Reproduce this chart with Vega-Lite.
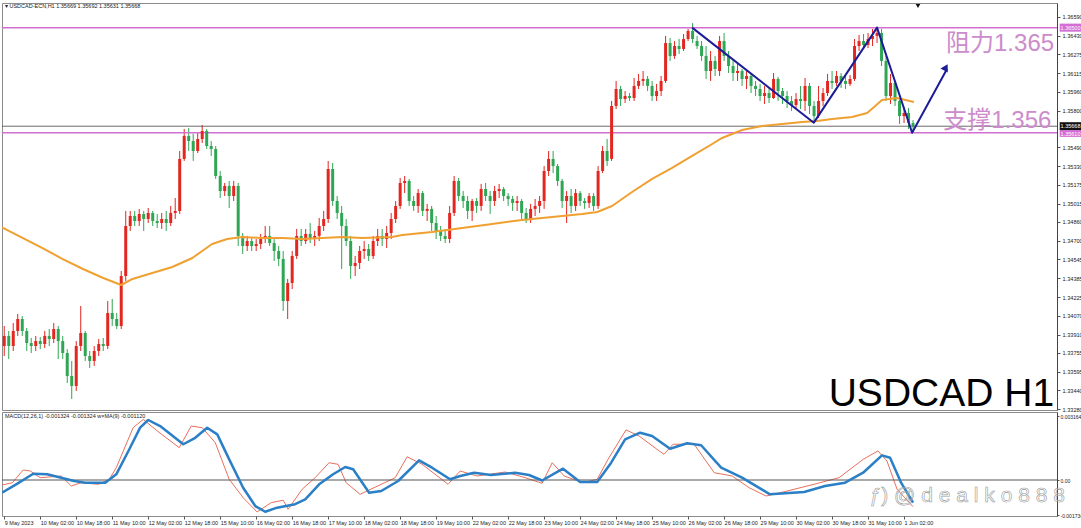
{
"$schema": "https://vega.github.io/schema/vega-lite/v6.json",
"padding": {"left": 0, "right": 0, "top": 2, "bottom": 0},
"background": "#ffffff",
"spacing": 2,
"bounds": "flush",
"config": {
 "view": {"stroke": "#8c8c8c", "strokeWidth": 1},
 "axis": {"labelFont": "Liberation Sans", "labelFontSize": 5.6, "labelColor": "#222222", "tickColor": "#555555", "tickSize": 3, "domainColor": "#444444", "grid": false}
},
"datasets": {
"one": [{}],
"candles": [
{"t":0,"o":1.33813,"h":1.33982,"l":1.33729,"c":1.33898},
{"t":2,"o":1.33898,"h":1.33940,"l":1.33703,"c":1.33813},
{"t":4,"o":1.33813,"h":1.34007,"l":1.33771,"c":1.33940},
{"t":6,"o":1.33940,"h":1.34084,"l":1.33898,"c":1.34041},
{"t":8,"o":1.34041,"h":1.34066,"l":1.33898,"c":1.33940},
{"t":10,"o":1.33940,"h":1.33965,"l":1.33771,"c":1.33838},
{"t":12,"o":1.33838,"h":1.33881,"l":1.33754,"c":1.33813},
{"t":14,"o":1.33813,"h":1.33898,"l":1.33771,"c":1.33855},
{"t":16,"o":1.33855,"h":1.33889,"l":1.33787,"c":1.33830},
{"t":18,"o":1.33830,"h":1.33940,"l":1.33796,"c":1.33898},
{"t":20,"o":1.33898,"h":1.33957,"l":1.33813,"c":1.33872},
{"t":22,"o":1.33872,"h":1.34007,"l":1.33838,"c":1.33957},
{"t":24,"o":1.33957,"h":1.33982,"l":1.33703,"c":1.33855},
{"t":26,"o":1.33855,"h":1.33898,"l":1.33703,"c":1.33754},
{"t":28,"o":1.33754,"h":1.33787,"l":1.33501,"c":1.33560},
{"t":30,"o":1.33560,"h":1.33687,"l":1.33366,"c":1.33476},
{"t":32,"o":1.33476,"h":1.33855,"l":1.33434,"c":1.33813},
{"t":34,"o":1.33813,"h":1.34151,"l":1.33771,"c":1.33923},
{"t":36,"o":1.33923,"h":1.33940,"l":1.33687,"c":1.33729},
{"t":38,"o":1.33729,"h":1.33771,"l":1.33628,"c":1.33687},
{"t":40,"o":1.33687,"h":1.33813,"l":1.33645,"c":1.33771},
{"t":42,"o":1.33771,"h":1.33872,"l":1.33729,"c":1.33830},
{"t":44,"o":1.33830,"h":1.33881,"l":1.33771,"c":1.33813},
{"t":46,"o":1.33813,"h":1.34193,"l":1.33787,"c":1.34092},
{"t":48,"o":1.34092,"h":1.34210,"l":1.33982,"c":1.34041},
{"t":50,"o":1.34041,"h":1.34092,"l":1.33957,"c":1.33982},
{"t":52,"o":1.33982,"h":1.34446,"l":1.33957,"c":1.34404},
{"t":54,"o":1.34404,"h":1.34953,"l":1.34362,"c":1.34826},
{"t":56,"o":1.34826,"h":1.34953,"l":1.34784,"c":1.34910},
{"t":58,"o":1.34910,"h":1.34953,"l":1.34826,"c":1.34868},
{"t":60,"o":1.34868,"h":1.34970,"l":1.34826,"c":1.34927},
{"t":62,"o":1.34927,"h":1.34953,"l":1.34784,"c":1.34885},
{"t":64,"o":1.34885,"h":1.34978,"l":1.34851,"c":1.34936},
{"t":66,"o":1.34936,"h":1.34953,"l":1.34826,"c":1.34868},
{"t":68,"o":1.34868,"h":1.34927,"l":1.34809,"c":1.34851},
{"t":70,"o":1.34851,"h":1.34936,"l":1.34801,"c":1.34885},
{"t":72,"o":1.34885,"h":1.34953,"l":1.34784,"c":1.34851},
{"t":74,"o":1.34851,"h":1.34995,"l":1.34826,"c":1.34936},
{"t":76,"o":1.34936,"h":1.35062,"l":1.34885,"c":1.34953},
{"t":78,"o":1.34953,"h":1.35459,"l":1.34927,"c":1.35392},
{"t":80,"o":1.35392,"h":1.35645,"l":1.35375,"c":1.35586},
{"t":82,"o":1.35586,"h":1.35653,"l":1.35459,"c":1.35543},
{"t":84,"o":1.35543,"h":1.35603,"l":1.35375,"c":1.35459},
{"t":86,"o":1.35459,"h":1.35611,"l":1.35442,"c":1.35560},
{"t":88,"o":1.35560,"h":1.35678,"l":1.35526,"c":1.35628},
{"t":90,"o":1.35628,"h":1.35645,"l":1.35476,"c":1.35501},
{"t":92,"o":1.35501,"h":1.35543,"l":1.35417,"c":1.35476},
{"t":94,"o":1.35476,"h":1.35501,"l":1.35223,"c":1.35248},
{"t":96,"o":1.35248,"h":1.35290,"l":1.35062,"c":1.35121},
{"t":98,"o":1.35121,"h":1.35189,"l":1.35079,"c":1.35164},
{"t":100,"o":1.35164,"h":1.35206,"l":1.34978,"c":1.35079},
{"t":102,"o":1.35079,"h":1.35206,"l":1.35037,"c":1.35164},
{"t":104,"o":1.35164,"h":1.35189,"l":1.34657,"c":1.34742},
{"t":106,"o":1.34742,"h":1.34767,"l":1.34590,"c":1.34657},
{"t":108,"o":1.34657,"h":1.34742,"l":1.34615,"c":1.34699},
{"t":110,"o":1.34699,"h":1.34725,"l":1.34615,"c":1.34657},
{"t":112,"o":1.34657,"h":1.34716,"l":1.34615,"c":1.34674},
{"t":114,"o":1.34674,"h":1.34759,"l":1.34632,"c":1.34716},
{"t":116,"o":1.34716,"h":1.34826,"l":1.34682,"c":1.34742},
{"t":118,"o":1.34742,"h":1.34826,"l":1.34657,"c":1.34682},
{"t":120,"o":1.34682,"h":1.34716,"l":1.34531,"c":1.34615},
{"t":122,"o":1.34615,"h":1.34657,"l":1.34488,"c":1.34548},
{"t":124,"o":1.34548,"h":1.34615,"l":1.34109,"c":1.34193},
{"t":126,"o":1.34193,"h":1.34379,"l":1.34041,"c":1.34345},
{"t":128,"o":1.34345,"h":1.34615,"l":1.34294,"c":1.34573},
{"t":130,"o":1.34573,"h":1.34801,"l":1.34548,"c":1.34742},
{"t":132,"o":1.34742,"h":1.34801,"l":1.34657,"c":1.34699},
{"t":134,"o":1.34699,"h":1.34801,"l":1.34674,"c":1.34759},
{"t":136,"o":1.34759,"h":1.34851,"l":1.34682,"c":1.34716},
{"t":138,"o":1.34716,"h":1.34784,"l":1.34657,"c":1.34742},
{"t":140,"o":1.34742,"h":1.34894,"l":1.34699,"c":1.34826},
{"t":142,"o":1.34826,"h":1.34953,"l":1.34784,"c":1.34885},
{"t":144,"o":1.34885,"h":1.35375,"l":1.34851,"c":1.35307},
{"t":146,"o":1.35307,"h":1.35358,"l":1.34995,"c":1.35037},
{"t":148,"o":1.35037,"h":1.35079,"l":1.34885,"c":1.34936},
{"t":150,"o":1.34936,"h":1.34995,"l":1.34463,"c":1.34826},
{"t":152,"o":1.34826,"h":1.34885,"l":1.34657,"c":1.34699},
{"t":154,"o":1.34699,"h":1.34742,"l":1.34379,"c":1.34488},
{"t":156,"o":1.34488,"h":1.34573,"l":1.34404,"c":1.34514},
{"t":158,"o":1.34514,"h":1.34657,"l":1.34463,"c":1.34615},
{"t":160,"o":1.34615,"h":1.34699,"l":1.34548,"c":1.34632},
{"t":162,"o":1.34632,"h":1.34674,"l":1.34531,"c":1.34573},
{"t":164,"o":1.34573,"h":1.34742,"l":1.34548,"c":1.34699},
{"t":166,"o":1.34699,"h":1.34801,"l":1.34657,"c":1.34742},
{"t":168,"o":1.34742,"h":1.34801,"l":1.34657,"c":1.34716},
{"t":170,"o":1.34716,"h":1.34826,"l":1.34640,"c":1.34767},
{"t":172,"o":1.34767,"h":1.34936,"l":1.34716,"c":1.34885},
{"t":174,"o":1.34885,"h":1.35037,"l":1.34851,"c":1.34995},
{"t":176,"o":1.34995,"h":1.35231,"l":1.34970,"c":1.35189},
{"t":178,"o":1.35189,"h":1.35248,"l":1.35104,"c":1.35206},
{"t":180,"o":1.35206,"h":1.35223,"l":1.34995,"c":1.35037},
{"t":182,"o":1.35037,"h":1.35079,"l":1.34953,"c":1.34995},
{"t":184,"o":1.34995,"h":1.35138,"l":1.34936,"c":1.35104},
{"t":186,"o":1.35104,"h":1.35121,"l":1.34910,"c":1.34953},
{"t":188,"o":1.34953,"h":1.35012,"l":1.34868,"c":1.34970},
{"t":190,"o":1.34970,"h":1.34995,"l":1.34784,"c":1.34851},
{"t":192,"o":1.34851,"h":1.34910,"l":1.34716,"c":1.34784},
{"t":194,"o":1.34784,"h":1.34826,"l":1.34699,"c":1.34742},
{"t":196,"o":1.34742,"h":1.34801,"l":1.34682,"c":1.34716},
{"t":198,"o":1.34716,"h":1.34995,"l":1.34682,"c":1.34936},
{"t":200,"o":1.34936,"h":1.35248,"l":1.34910,"c":1.35206},
{"t":202,"o":1.35206,"h":1.35231,"l":1.35037,"c":1.35079},
{"t":204,"o":1.35079,"h":1.35121,"l":1.34978,"c":1.35037},
{"t":206,"o":1.35037,"h":1.35079,"l":1.34885,"c":1.34953},
{"t":208,"o":1.34953,"h":1.35054,"l":1.34868,"c":1.35037},
{"t":210,"o":1.35037,"h":1.35062,"l":1.34936,"c":1.34995},
{"t":212,"o":1.34995,"h":1.35181,"l":1.34953,"c":1.35138},
{"t":214,"o":1.35138,"h":1.35189,"l":1.35037,"c":1.35079},
{"t":216,"o":1.35079,"h":1.35121,"l":1.34927,"c":1.35037},
{"t":218,"o":1.35037,"h":1.35164,"l":1.34995,"c":1.35121},
{"t":220,"o":1.35121,"h":1.35181,"l":1.35062,"c":1.35138},
{"t":222,"o":1.35138,"h":1.35155,"l":1.35037,"c":1.35079},
{"t":224,"o":1.35079,"h":1.35104,"l":1.34995,"c":1.35054},
{"t":226,"o":1.35054,"h":1.35079,"l":1.34953,"c":1.35020},
{"t":228,"o":1.35020,"h":1.35079,"l":1.34953,"c":1.35037},
{"t":230,"o":1.35037,"h":1.35054,"l":1.34885,"c":1.34936},
{"t":232,"o":1.34936,"h":1.34978,"l":1.34851,"c":1.34885},
{"t":234,"o":1.34885,"h":1.35012,"l":1.34851,"c":1.34970},
{"t":236,"o":1.34970,"h":1.35054,"l":1.34910,"c":1.34995},
{"t":238,"o":1.34995,"h":1.35079,"l":1.34936,"c":1.35037},
{"t":240,"o":1.35037,"h":1.35332,"l":1.34970,"c":1.35290},
{"t":242,"o":1.35290,"h":1.35459,"l":1.35248,"c":1.35392},
{"t":244,"o":1.35392,"h":1.35459,"l":1.35273,"c":1.35332},
{"t":246,"o":1.35332,"h":1.35349,"l":1.35164,"c":1.35206},
{"t":248,"o":1.35206,"h":1.35223,"l":1.34978,"c":1.35037},
{"t":250,"o":1.35037,"h":1.35121,"l":1.34851,"c":1.35079},
{"t":252,"o":1.35079,"h":1.35138,"l":1.34936,"c":1.34995},
{"t":254,"o":1.34995,"h":1.35138,"l":1.34953,"c":1.35104},
{"t":256,"o":1.35104,"h":1.35121,"l":1.34995,"c":1.35037},
{"t":258,"o":1.35037,"h":1.35062,"l":1.34970,"c":1.35020},
{"t":260,"o":1.35020,"h":1.35104,"l":1.34978,"c":1.35079},
{"t":262,"o":1.35079,"h":1.35104,"l":1.34953,"c":1.34995},
{"t":264,"o":1.34995,"h":1.35332,"l":1.34970,"c":1.35290},
{"t":266,"o":1.35290,"h":1.35501,"l":1.35273,"c":1.35459},
{"t":268,"o":1.35459,"h":1.35560,"l":1.35332,"c":1.35375},
{"t":270,"o":1.35392,"h":1.35881,"l":1.35375,"c":1.35839},
{"t":272,"o":1.35839,"h":1.36050,"l":1.35813,"c":1.35982},
{"t":274,"o":1.35982,"h":1.36008,"l":1.35839,"c":1.35898},
{"t":276,"o":1.35898,"h":1.35965,"l":1.35864,"c":1.35923},
{"t":278,"o":1.35923,"h":1.35948,"l":1.35881,"c":1.35906},
{"t":280,"o":1.35906,"h":1.36075,"l":1.35881,"c":1.36008},
{"t":282,"o":1.36008,"h":1.36109,"l":1.35982,"c":1.36050},
{"t":284,"o":1.36050,"h":1.36134,"l":1.36008,"c":1.36067},
{"t":286,"o":1.36067,"h":1.36092,"l":1.35965,"c":1.36008},
{"t":288,"o":1.36008,"h":1.36050,"l":1.35881,"c":1.35923},
{"t":290,"o":1.35923,"h":1.36025,"l":1.35881,"c":1.35965},
{"t":292,"o":1.35965,"h":1.36092,"l":1.35923,"c":1.36050},
{"t":294,"o":1.36050,"h":1.36430,"l":1.36033,"c":1.36370},
{"t":296,"o":1.36370,"h":1.36413,"l":1.36219,"c":1.36261},
{"t":298,"o":1.36261,"h":1.36387,"l":1.36236,"c":1.36345},
{"t":300,"o":1.36345,"h":1.36404,"l":1.36278,"c":1.36320},
{"t":302,"o":1.36320,"h":1.36446,"l":1.36303,"c":1.36404},
{"t":304,"o":1.36404,"h":1.36489,"l":1.36387,"c":1.36472},
{"t":306,"o":1.36472,"h":1.36539,"l":1.36370,"c":1.36404},
{"t":308,"o":1.36387,"h":1.36430,"l":1.36320,"c":1.36345},
{"t":310,"o":1.36345,"h":1.36387,"l":1.36219,"c":1.36261},
{"t":312,"o":1.36261,"h":1.36345,"l":1.36067,"c":1.36134},
{"t":314,"o":1.36134,"h":1.36303,"l":1.36050,"c":1.36219},
{"t":316,"o":1.36219,"h":1.36261,"l":1.36092,"c":1.36151},
{"t":318,"o":1.36134,"h":1.36430,"l":1.36092,"c":1.36387},
{"t":320,"o":1.36387,"h":1.36455,"l":1.36219,"c":1.36261},
{"t":322,"o":1.36261,"h":1.36303,"l":1.36117,"c":1.36176},
{"t":324,"o":1.36176,"h":1.36236,"l":1.36050,"c":1.36117},
{"t":326,"o":1.36117,"h":1.36202,"l":1.36050,"c":1.36134},
{"t":328,"o":1.36134,"h":1.36151,"l":1.36008,"c":1.36067},
{"t":330,"o":1.36067,"h":1.36134,"l":1.35982,"c":1.36092},
{"t":332,"o":1.36092,"h":1.36109,"l":1.35948,"c":1.36008},
{"t":334,"o":1.36008,"h":1.36050,"l":1.35923,"c":1.35982},
{"t":336,"o":1.35982,"h":1.36025,"l":1.35881,"c":1.35923},
{"t":338,"o":1.35923,"h":1.36008,"l":1.35856,"c":1.35948},
{"t":340,"o":1.35948,"h":1.35991,"l":1.35864,"c":1.35906},
{"t":342,"o":1.35906,"h":1.36117,"l":1.35898,"c":1.36067},
{"t":344,"o":1.36067,"h":1.36084,"l":1.35881,"c":1.35965},
{"t":346,"o":1.35965,"h":1.35991,"l":1.35856,"c":1.35923},
{"t":348,"o":1.35923,"h":1.35965,"l":1.35822,"c":1.35881},
{"t":350,"o":1.35881,"h":1.35923,"l":1.35797,"c":1.35847},
{"t":352,"o":1.35847,"h":1.35948,"l":1.35813,"c":1.35898},
{"t":354,"o":1.35898,"h":1.36008,"l":1.35813,"c":1.35881},
{"t":356,"o":1.35881,"h":1.36075,"l":1.35797,"c":1.36008},
{"t":358,"o":1.36008,"h":1.36033,"l":1.35771,"c":1.35839},
{"t":360,"o":1.35839,"h":1.35881,"l":1.35712,"c":1.35754},
{"t":362,"o":1.35754,"h":1.36008,"l":1.35737,"c":1.35881},
{"t":364,"o":1.35881,"h":1.35991,"l":1.35839,"c":1.35948},
{"t":366,"o":1.35948,"h":1.36109,"l":1.35923,"c":1.36050},
{"t":368,"o":1.36050,"h":1.36134,"l":1.35982,"c":1.36033},
{"t":370,"o":1.36033,"h":1.36134,"l":1.36008,"c":1.36092},
{"t":372,"o":1.36092,"h":1.36117,"l":1.35991,"c":1.36050},
{"t":374,"o":1.36050,"h":1.36092,"l":1.35982,"c":1.36025},
{"t":376,"o":1.36025,"h":1.36100,"l":1.36008,"c":1.36067},
{"t":378,"o":1.36067,"h":1.36404,"l":1.36050,"c":1.36345},
{"t":380,"o":1.36345,"h":1.36438,"l":1.36303,"c":1.36387},
{"t":382,"o":1.36387,"h":1.36446,"l":1.36320,"c":1.36354},
{"t":384,"o":1.36354,"h":1.36455,"l":1.36328,"c":1.36404},
{"t":386,"o":1.36404,"h":1.36489,"l":1.36345,"c":1.36430},
{"t":388,"o":1.36430,"h":1.36506,"l":1.36370,"c":1.36455},
{"t":390,"o":1.36455,"h":1.36489,"l":1.36176,"c":1.36219},
{"t":392,"o":1.36219,"h":1.36261,"l":1.35881,"c":1.35923},
{"t":394,"o":1.35923,"h":1.36109,"l":1.35856,"c":1.36033},
{"t":396,"o":1.36033,"h":1.36050,"l":1.35839,"c":1.35881},
{"t":398,"o":1.35881,"h":1.35898,"l":1.35687,"c":1.35754},
{"t":400,"o":1.35754,"h":1.35830,"l":1.35695,"c":1.35780},
{"t":402,"o":1.35780,"h":1.35822,"l":1.35645,"c":1.35695},
{"t":404,"o":1.35695,"h":1.35720,"l":1.35631,"c":1.35668}
],
"ma": [
{"t":-1,"m":1.34815},{"t":17,"m":1.34640},{"t":26,"m":1.34547},{"t":35,"m":1.34463},{"t":44,"m":1.34387},{"t":52,"m":1.34328},{"t":57,"m":1.34379},{"t":65.8,"m":1.34429},{"t":74.7,"m":1.34480},{"t":83.6,"m":1.34556},{"t":88,"m":1.34615},{"t":92.4,"m":1.34674},{"t":99.1,"m":1.34716},{"t":105.8,"m":1.34733},{"t":114.7,"m":1.34725},{"t":123.6,"m":1.34725},{"t":132.4,"m":1.34716},{"t":141.3,"m":1.34725},{"t":150.2,"m":1.34733},{"t":159.1,"m":1.34725},{"t":172.4,"m":1.34733},{"t":176.9,"m":1.34750},{"t":190.2,"m":1.34775},{"t":203.6,"m":1.34809},{"t":216.9,"m":1.34843},{"t":230.2,"m":1.34877},{"t":239.1,"m":1.34894},{"t":248,"m":1.34910},{"t":256.9,"m":1.34927},{"t":263.6,"m":1.34944},{"t":270.2,"m":1.34995},{"t":279.1,"m":1.35113},{"t":288,"m":1.35223},{"t":296.9,"m":1.35316},{"t":305.8,"m":1.35417},{"t":314.7,"m":1.35518},{"t":319.1,"m":1.35569},{"t":328,"m":1.35636},{"t":336.9,"m":1.35670},{"t":345.8,"m":1.35687},{"t":354.7,"m":1.35704},{"t":361.3,"m":1.35712},{"t":368,"m":1.35729},{"t":376.9,"m":1.35746},{"t":383.6,"m":1.35780},{"t":386.7,"m":1.35830},{"t":390.2,"m":1.35889},{"t":396.9,"m":1.35906},{"t":404.4,"m":1.35873}
],
"trend": [
{"k":1,"t":305.8,"p":1.36500},{"k":2,"t":359.9,"p":1.35698},{"k":3,"t":388,"p":1.36500},{"k":4,"t":403.6,"p":1.35613},{"k":5,"t":419.1,"p":1.36151}
],
"signal": [
{"t":-1,"v":-0.000629},{"t":5.3,"v":-0.000213},{"t":12.9,"v":0.000312},{"t":19.1,"v":0.000282},{"t":25.3,"v":0.000114},{"t":31.1,"v":-0.0000495},{"t":36,"v":-0.000134},{"t":44.9,"v":-0.000134},{"t":49.8,"v":0.000282},{"t":55.6,"v":0.00152},{"t":60.4,"v":0.00259},{"t":64,"v":0.00297},{"t":69.3,"v":0.00267},{"t":79.6,"v":0.00177},{"t":84.9,"v":0.00209},{"t":90.2,"v":0.00259},{"t":94.7,"v":0.00226},{"t":100,"v":0.00102},{"t":106.2,"v":-0.000381},{"t":111.6,"v":-0.00129},{"t":116,"v":-0.00157},{"t":121.3,"v":-0.00137},{"t":129.3,"v":-0.00120},{"t":133.8,"v":-0.000955},{"t":140,"v":-0.000213},{"t":146.2,"v":0.000282},{"t":151.6,"v":0.000644},{"t":155.1,"v":0.000530},{"t":162.2,"v":-0.000629},{"t":167.6,"v":-0.000545},{"t":175.1,"v":-0.0000495},{"t":184.4,"v":0.000975},{"t":190.2,"v":0.000609},{"t":198.2,"v":0.0000347},{"t":202.7,"v":0.000198},{"t":208.9,"v":0.000361},{"t":216.4,"v":0.000248},{"t":227.1,"v":0.000361},{"t":233.3,"v":0.000248},{"t":239.1,"v":-0.0000248},{"t":248.4,"v":0.000559},{"t":256,"v":-0.000099},{"t":263.6,"v":-0.000099},{"t":269.8,"v":0.000856},{"t":276,"v":0.00201},{"t":282.7,"v":0.00234},{"t":288,"v":0.00218},{"t":296,"v":0.00155},{"t":303.6,"v":0.00182},{"t":309.8,"v":0.00172},{"t":318.7,"v":0.000609},{"t":328,"v":0.000114},{"t":340.4,"v":-0.000708},{"t":355.6,"v":-0.000594},{"t":364.9,"v":-0.000297},{"t":373.8,"v":-0.000134},{"t":381.8,"v":0.000361},{"t":390.2,"v":0.00122},{"t":393.8,"v":0.00110},{"t":398.7,"v":-0.000134},{"t":404,"v":-0.00112}
],
"macd": [
{"t":-1,"v":-0.000248},{"t":3.6,"v":-0.000134},{"t":8.4,"v":0.000495},{"t":11.6,"v":0.000446},{"t":16,"v":0.000114},{"t":25.3,"v":0.000198},{"t":29.8,"v":-0.000297},{"t":34.2,"v":-0.000134},{"t":41.8,"v":-0.000213},{"t":46.7,"v":0.0000347},{"t":49.8,"v":0.000609},{"t":57.3,"v":0.00259},{"t":61.8,"v":0.00300},{"t":68,"v":0.00243},{"t":77.8,"v":0.00160},{"t":83.1,"v":0.00267},{"t":88,"v":0.00259},{"t":93.8,"v":0.00185},{"t":100,"v":0.0000347},{"t":106.2,"v":-0.000876},{"t":112.4,"v":-0.00158},{"t":118.7,"v":-0.00112},{"t":124,"v":-0.00100},{"t":126.2,"v":-0.00145},{"t":132.4,"v":-0.000460},{"t":138.2,"v":0.000114},{"t":144.4,"v":0.000856},{"t":148.4,"v":0.000777},{"t":152,"v":-0.000134},{"t":158.2,"v":-0.000708},{"t":164.4,"v":-0.000381},{"t":173.8,"v":0.000114},{"t":179.1,"v":0.00115},{"t":185.8,"v":0.000777},{"t":197.3,"v":-0.000213},{"t":202.7,"v":0.000446},{"t":210.2,"v":0.000198},{"t":222.7,"v":0.000396},{"t":231.6,"v":0.000114},{"t":239.1,"v":-0.000163},{"t":243.6,"v":0.000856},{"t":248.9,"v":0.000198},{"t":257.3,"v":-0.000134},{"t":263.6,"v":0.0000347},{"t":268.4,"v":0.00102},{"t":276.4,"v":0.00248},{"t":282.2,"v":0.00218},{"t":289.8,"v":0.00155},{"t":293.3,"v":0.00127},{"t":297.3,"v":0.00177},{"t":306.7,"v":0.00177},{"t":315.6,"v":0.000361},{"t":323.6,"v":0.000198},{"t":331.1,"v":-0.000381},{"t":338.7,"v":-0.000792},{"t":346.2,"v":-0.000594},{"t":360,"v":-0.000213},{"t":371.1,"v":0.000114},{"t":381.8,"v":0.00102},{"t":388.4,"v":0.00144},{"t":392.4,"v":0.000941},{"t":396.9,"v":-0.000460},{"t":404,"v":-0.001324}
]
},
"vconcat": [
{
"width": 1055, "height": 407,
"resolve": {"axis": {"x": "independent", "y": "independent"}},
"layer": [
{"data": {"name": "candles"},
 "mark": {"type": "rule", "strokeWidth": 1, "clip": true},
 "encoding": {
  "x": {"field": "t", "type": "quantitative", "scale": {"domain": [-1, 468], "nice": false, "zero": false}, "axis": null},
  "y": {"field": "l", "type": "quantitative", "scale": {"domain": [1.33273, 1.36708], "nice": false, "zero": false},
        "axis": {"orient": "right", "title": null, "values": [1.3659,1.3643,1.36275,1.36115,1.3596,1.358,1.3549,1.3533,1.35175,1.35015,1.3486,1.347,1.34545,1.34385,1.34225,1.3407,1.3391,1.33755,1.33595,1.3344,1.3328], "format": ".5f", "labelPadding": 2, "labelOverlap": false}},
  "y2": {"field": "h"},
  "color": {"condition": {"test": "datum.c >= datum.o", "value": "#e3261f"}, "value": "#2fa653"}}},
{"data": {"name": "one"},
 "mark": {"type": "rule", "color": "#d26fd2", "strokeWidth": 1.5},
 "encoding": {"y": {"datum": 1.365, "type": "quantitative", "axis": null}}},
{"data": {"name": "one"},
 "mark": {"type": "rule", "color": "#d26fd2", "strokeWidth": 1.5},
 "encoding": {"y": {"datum": 1.35612, "type": "quantitative", "axis": null}}},
{"data": {"name": "one"},
 "mark": {"type": "rule", "color": "#444444", "strokeWidth": 0.8},
 "encoding": {"y": {"datum": 1.35668, "type": "quantitative", "axis": null}}},
{"data": {"name": "candles"},
 "mark": {"type": "rule", "strokeWidth": 3, "clip": true},
 "encoding": {
  "x": {"field": "t", "type": "quantitative", "axis": null},
  "y": {"field": "o", "type": "quantitative", "axis": null},
  "y2": {"field": "c"},
  "color": {"condition": {"test": "datum.c >= datum.o", "value": "#e3261f"}, "value": "#2fa653"}}},
{"data": {"name": "ma"},
 "mark": {"type": "line", "color": "#f0a030", "strokeWidth": 2, "clip": true, "strokeJoin": "round"},
 "encoding": {
  "x": {"field": "t", "type": "quantitative", "axis": null},
  "y": {"field": "m", "type": "quantitative", "axis": null}}},
{"data": {"name": "trend"},
 "mark": {"type": "line", "color": "#1c1c96", "strokeWidth": 2, "strokeJoin": "round"},
 "encoding": {
  "x": {"field": "t", "type": "quantitative", "axis": null},
  "y": {"field": "p", "type": "quantitative", "axis": null},
  "order": {"field": "k"}}},
{"data": {"name": "one"},
 "mark": {"type": "point", "shape": "triangle-up", "angle": 29, "size": 70, "filled": true, "color": "#1c1c96", "opacity": 1},
 "encoding": {"x": {"datum": 418.6, "type": "quantitative", "axis": null}, "y": {"datum": 1.36165, "type": "quantitative", "axis": null}}},
{"data": {"name": "one"},
 "mark": {"type": "point", "shape": "triangle-down", "size": 22, "filled": true, "color": "#111111", "opacity": 1},
 "encoding": {"x": {"datum": 406.2, "type": "quantitative", "axis": null}, "y": {"datum": 1.36682, "type": "quantitative", "axis": null}}},
{"data": {"name": "one"},
 "mark": {"type": "text", "text": "阻力1.365", "font": "Liberation Sans, Noto Sans CJK SC", "fontSize": 24, "color": "#cc8ccc", "align": "right", "baseline": "alphabetic"},
 "encoding": {"x": {"datum": 466.7, "type": "quantitative", "axis": null}, "y": {"datum": 1.36303, "type": "quantitative", "axis": null}}},
{"data": {"name": "one"},
 "mark": {"type": "text", "text": "支撑1.356", "font": "Liberation Sans, Noto Sans CJK SC", "fontSize": 24, "color": "#cc8ccc", "align": "right", "baseline": "alphabetic"},
 "encoding": {"x": {"datum": 465.5, "type": "quantitative", "axis": null}, "y": {"datum": 1.35653, "type": "quantitative", "axis": null}}},
{"data": {"name": "one"},
 "mark": {"type": "text", "text": "USDCAD H1", "font": "Liberation Sans", "fontSize": 39, "color": "#000000", "align": "right", "baseline": "alphabetic"},
 "encoding": {"x": {"datum": 466.7, "type": "quantitative", "axis": null}, "y": {"datum": 1.33307, "type": "quantitative", "axis": null}}},
{"data": {"name": "one"},
 "mark": {"type": "text", "text": "▾ USDCAD-ECN,H1  1.35669 1.35692 1.35631 1.35668", "font": "Liberation Sans", "fontSize": 5.5, "color": "#222222", "align": "left", "baseline": "middle"},
 "encoding": {"x": {"datum": 0.3, "type": "quantitative", "axis": null}, "y": {"datum": 1.36683, "type": "quantitative", "axis": null}}},
{"data": {"name": "one"},
 "mark": {"type": "rect", "color": "#d26fd2"},
 "encoding": {"x": {"datum": 469.2, "type": "quantitative", "axis": null}, "x2": {"datum": 479.5}, "y": {"datum": 1.36534, "type": "quantitative", "axis": null}, "y2": {"datum": 1.36466}}},
{"data": {"name": "one"},
 "mark": {"type": "rect", "color": "#d26fd2"},
 "encoding": {"x": {"datum": 469.2, "type": "quantitative", "axis": null}, "x2": {"datum": 479.5}, "y": {"datum": 1.35646, "type": "quantitative", "axis": null}, "y2": {"datum": 1.35578}}},
{"data": {"name": "one"},
 "mark": {"type": "rect", "color": "#111111"},
 "encoding": {"x": {"datum": 469.2, "type": "quantitative", "axis": null}, "x2": {"datum": 479.5}, "y": {"datum": 1.35702, "type": "quantitative", "axis": null}, "y2": {"datum": 1.35636}}},
{"data": {"name": "one"},
 "mark": {"type": "text", "text": "1.36500", "font": "Liberation Sans", "fontSize": 5.5, "color": "#ffffff", "align": "left", "baseline": "middle"},
 "encoding": {"x": {"datum": 469.6, "type": "quantitative", "axis": null}, "y": {"datum": 1.365, "type": "quantitative", "axis": null}}},
{"data": {"name": "one"},
 "mark": {"type": "text", "text": "1.35610", "font": "Liberation Sans", "fontSize": 5.5, "color": "#ffffff", "align": "left", "baseline": "middle"},
 "encoding": {"x": {"datum": 469.6, "type": "quantitative", "axis": null}, "y": {"datum": 1.35605, "type": "quantitative", "axis": null}}},
{"data": {"name": "one"},
 "mark": {"type": "text", "text": "1.35668", "font": "Liberation Sans", "fontSize": 5.5, "color": "#ffffff", "align": "left", "baseline": "middle"},
 "encoding": {"x": {"datum": 469.6, "type": "quantitative", "axis": null}, "y": {"datum": 1.35669, "type": "quantitative", "axis": null}}}
]
},
{
"width": 1055, "height": 104,
"resolve": {"axis": {"x": "independent", "y": "independent"}},
"layer": [
{"data": {"name": "macd"},
 "mark": {"type": "line", "color": "#e8705c", "strokeWidth": 1, "clip": true, "strokeJoin": "round"},
 "encoding": {
  "x": {"field": "t", "type": "quantitative", "scale": {"domain": [-1, 468], "nice": false, "zero": false},
        "axis": {"orient": "bottom", "title": null, "values": [0,16,32,48,64,80,96,112,128,144,160,176,192,208,224,240,256,272,288,304,320,336,352,368,384,400], "labelExpr": "['9 May 2023','10 May 02:00','10 May 18:00','11 May 10:00','12 May 02:00','12 May 18:00','15 May 10:00','16 May 02:00','16 May 18:00','17 May 10:00','18 May 02:00','18 May 18:00','19 May 10:00','22 May 02:00','22 May 18:00','23 May 10:00','24 May 02:00','24 May 18:00','25 May 10:00','26 May 02:00','26 May 18:00','29 May 10:00','30 May 02:00','30 May 18:00','31 May 10:00','1 Jun 02:00'][round(datum.value/16)]", "labelAlign": "left", "labelBaseline": "top", "labelPadding": 1, "labelFontSize": 5.5, "labelOverlap": false, "domain": false}},
  "y": {"field": "v", "type": "quantitative", "scale": {"domain": [-0.001782, 0.003366], "nice": false, "zero": false},
        "axis": {"orient": "right", "title": null, "values": [0.003164, 0, -0.001734], "labelExpr": "datum.value > 0.001 ? '0.003164' : (datum.value < -0.001 ? '-0.001734' : '0.00')", "labelPadding": 1, "tickSize": 2, "labelFontSize": 5, "labelOverlap": false}}}},
{"data": {"name": "one"},
 "mark": {"type": "rule", "color": "#555555", "strokeWidth": 1},
 "encoding": {"y": {"datum": 0, "type": "quantitative", "axis": null}}},
{"data": {"name": "signal"},
 "mark": {"type": "line", "color": "#2a7fc6", "strokeWidth": 2.5, "clip": true, "strokeJoin": "round"},
 "encoding": {
  "x": {"field": "t", "type": "quantitative", "axis": null},
  "y": {"field": "v", "type": "quantitative", "axis": null}}},
{"data": {"name": "one"},
 "mark": {"type": "text", "text": "MACD(12,26,1) -0.001324 -0.001324  w×MA(9) -0.001120", "font": "Liberation Sans", "fontSize": 5.5, "color": "#222222", "align": "left", "baseline": "middle"},
 "encoding": {"x": {"datum": 0.3, "type": "quantitative", "axis": null}, "y": {"datum": 0.00317, "type": "quantitative", "axis": null}}},
{"data": {"name": "one"},
 "mark": {"type": "text", "text": "ƒ) @ d e a l k o 8 8 8", "font": "Liberation Sans", "fontSize": 21, "fill": "#ffffff", "fillOpacity": 0.2, "stroke": "#9a9a9a", "strokeWidth": 0.6, "align": "right", "baseline": "alphabetic"},
 "encoding": {"x": {"datum": 471.5, "type": "quantitative", "axis": null}, "y": {"datum": -0.00110, "type": "quantitative", "axis": null}}}
]
}
]
}
